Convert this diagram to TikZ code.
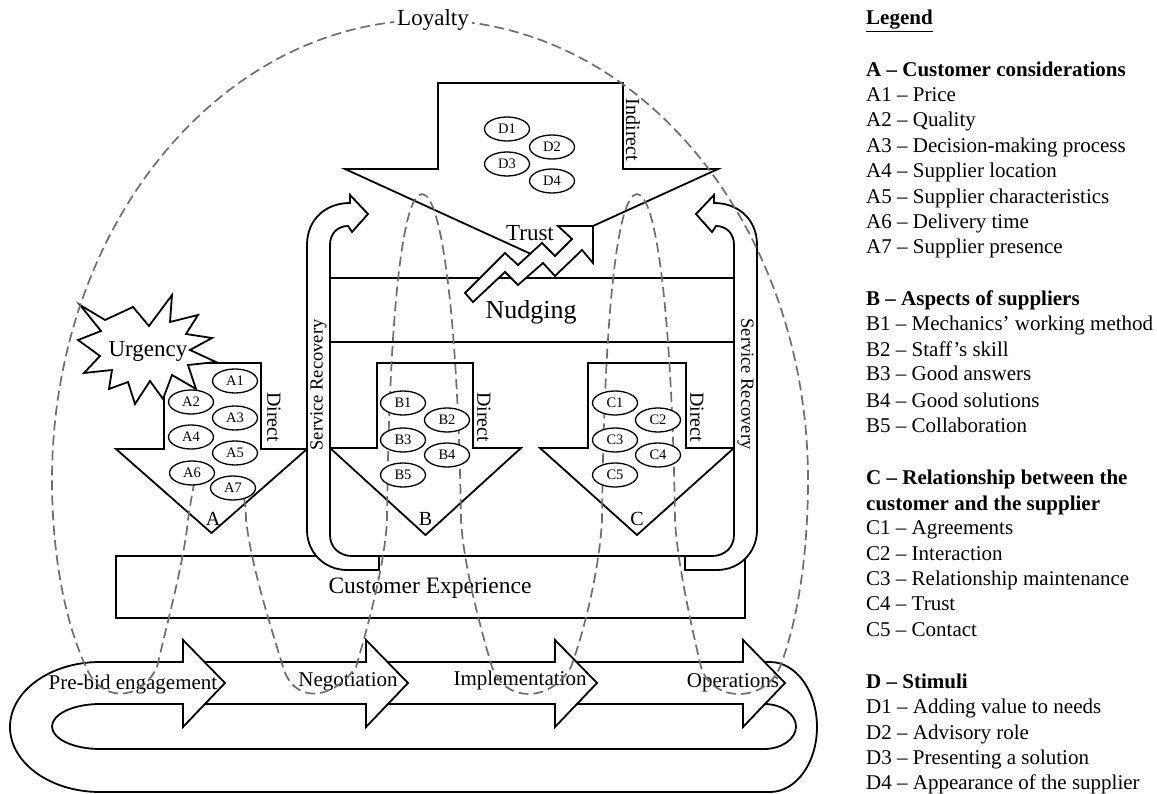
\documentclass[tikz,border=0pt]{standalone}
\usepackage{fontspec}
\setmainfont{Liberation Serif}
\usetikzlibrary{shapes.geometric}
\definecolor{dashgray}{RGB}{110,110,110}
\begin{document}
\begin{tikzpicture}[x=1pt,y=-1pt,
  shapeline/.style={draw=black, line width=1.8pt, line join=miter, fill=white},
  loopline/.style={draw=dashgray, line width=1.7pt, dash pattern=on 10pt off 5pt},
  pill/.style={draw, ellipse, line width=1.3pt, fill=white, minimum width=45pt, minimum height=24pt, inner sep=0pt, font=\fontsize{14.5}{14.5}\selectfont},
  lbl/.style={inner sep=0pt, font=\fontsize{20}{20}\selectfont},
  leg/.style={anchor=base west, inner sep=0pt, font=\fontsize{21}{25}\selectfont},
  legb/.style={leg, font=\fontsize{21}{25}\selectfont\bfseries}
]
\useasboundingbox (0,0) rectangle (1157,794);

% ---- process loop ----
\draw[shapeline] (100,662) -- (770,662) arc[start angle=-90,end angle=90,x radius=47,y radius=65]
  -- (100,792) arc[start angle=90,end angle=270,x radius=90,y radius=65] -- cycle;
\draw[shapeline] (100,704) -- (764,704) arc[start angle=-90,end angle=90,x radius=32,y radius=22.5]
  -- (100,749) arc[start angle=90,end angle=270,x radius=48,y radius=22.5] -- cycle;

% ---- stage arrows ----
\draw[shapeline] (570,662) -- (743,662) -- (743,640) -- (785,683) -- (743,727) -- (743,704) -- (570,704) -- cycle;
\draw[shapeline] (380,662) -- (555,662) -- (555,640) -- (597,683) -- (555,727) -- (555,704) -- (380,704) -- cycle;
\draw[shapeline] (200,662) -- (366,662) -- (366,640) -- (408,683) -- (366,727) -- (366,704) -- (200,704) -- cycle;
\fill[white] (100,662) -- (183,662) -- (183,640) -- (225,683) -- (183,727) -- (183,704) -- (100,704) -- cycle;
\draw[shapeline, fill=none] (100,662) -- (183,662) -- (183,640) -- (225,683) -- (183,727) -- (183,704) -- (100,704);

% ---- customer experience ----
\draw[shapeline] (116,556) rectangle (745,618);
\node[inner sep=0pt, font=\fontsize{23.5}{24}\selectfont] (ce) at (430,588) {Customer Experience};

% ---- nudging band ----
\draw[shapeline] (330,278) -- (734,278);
\draw[shapeline] (330,342) -- (734,342);
\node[inner sep=0pt, font=\fontsize{26}{26}\selectfont] (nudging) at (531,312) {Nudging};

% ---- category arrows A, B, C ----
\draw[shapeline] (164,363) -- (261,363) -- (261,449) -- (307,449) -- (211.5,533) -- (116,449) -- (164,449) -- cycle;
\draw[shapeline] (377,363) -- (473,363) -- (473,448) -- (521,448) -- (425.5,535) -- (330,448) -- (377,448) -- cycle;
\draw[shapeline] (588,363) -- (686,363) -- (686,448) -- (734,448) -- (637,535) -- (540,448) -- (588,448) -- cycle;

% ---- service recovery arrows ----
\draw[shapeline] (379,556) -- (352,556) .. controls (339,556) and (330,547) .. (330,535) -- (330,245)
  .. controls (330,233) and (338,226) .. (348,226) -- (352,232) -- (368,214) -- (350,195) -- (350,203)
  .. controls (325,203) and (307,220) .. (307,245) -- (307,530) .. controls (307,553) and (325,570) .. (347,570)
  -- (379,570) -- cycle;
\draw[shapeline] (685,556) -- (712,556) .. controls (725,556) and (734,547) .. (734,535) -- (734,245)
  .. controls (734,233) and (726,226) .. (716,226) -- (712,232) -- (696,214) -- (714,195) -- (714,203)
  .. controls (739,203) and (757,220) .. (757,245) -- (757,530) .. controls (757,553) and (739,570) .. (717,570)
  -- (685,570) -- cycle;
\node[inner sep=0pt, rotate=90, font=\fontsize{18.5}{19}\selectfont] (srl) at (318.5,385) {Service Recovery};
\node[inner sep=0pt, rotate=-90, font=\fontsize{18.5}{19}\selectfont] (srr) at (745.5,384) {Service Recovery};

% ---- stimuli arrow D ----
\draw[shapeline, fill=none] (593,226) -- (718,169) -- (623,169) -- (623,83) -- (438,83) -- (438,169) -- (345,169) -- (531,254);
\node[lbl, rotate=-90] (indirect) at (633,130) {Indirect};

% ---- trust zigzag arrow ----
\draw[shapeline] (465,293) -- (505,253) -- (518,265) -- (542,243) -- (555,256) -- (572,239) -- (558,226)
  -- (593,226) -- (593,263) -- (582,250) -- (555,276) -- (543,263) -- (518,285) -- (505,272) -- (473,302) -- cycle;
\node[inner sep=0pt, font=\fontsize{23}{23}\selectfont] (trust) at (530,233) {Trust};

% ---- urgency burst ----
\draw[shapeline] (80,305) -- (105,320) -- (133,307) -- (149,326) -- (172,295) -- (170,322) -- (198,315)
  -- (186,334) -- (212,338) -- (190,350) -- (216,362) -- (188,365) -- (196,389) -- (172,375) -- (163,399)
  -- (150,381) -- (135,404) -- (128,382) -- (109,389) -- (112,370) -- (84,373) -- (100,356) -- (78,340)
  -- (101,331) -- cycle;
\node[inner sep=0pt, font=\fontsize{23}{23}\selectfont] (urgency) at (148,351) {Urgency};

% ---- labels on arrows ----
\node[lbl, rotate=-90] (dira) at (274,417) {Direct};
\node[lbl, rotate=-90] (dirb) at (484,417) {Direct};
\node[lbl, rotate=-90] (dirc) at (697,417) {Direct};
\node[lbl] (la) at (213,519) {A};
\node[lbl] (lb) at (425.5,519) {B};
\node[lbl] (lc) at (637,519) {C};

% ---- stage labels ----
\node[inner sep=0pt, font=\fontsize{21}{21}\selectfont] (s1) at (133,684) {Pre-bid engagement};
\node[inner sep=0pt, font=\fontsize{21}{21}\selectfont] (s2) at (348,682) {Negotiation};
\node[inner sep=0pt, font=\fontsize{21}{21}\selectfont] (s3) at (520,680) {Implementation};
\node[inner sep=0pt, font=\fontsize{21}{21}\selectfont] (s4) at (733,683) {Operations};

% ---- loyalty / phase loops ----
\draw[loopline] (244,497) .. controls (245,505) and (246,512) .. (246,520)
  .. controls (252,570) and (272,630) .. (283,667)
  .. controls (293,702) and (330,703) .. (356,667)
  .. controls (372,612) and (385,560) .. (387,520)
  .. controls (389,320) and (402,194) .. (422,194)
  .. controls (442,194) and (458,320) .. (461,520)
  .. controls (463,560) and (478,620) .. (492,667)
  .. controls (505,703) and (550,703) .. (571,667)
  .. controls (588,620) and (600,560) .. (602,520)
  .. controls (604,320) and (617,194) .. (637,194)
  .. controls (657,194) and (672,320) .. (675,520)
  .. controls (677,560) and (690,620) .. (701,667)
  .. controls (712,703) and (765,703) .. (780,667)
  .. controls (800,615) and (808,545) .. (808,480)
  .. controls (808,226) and (639,20) .. (430,20)
  .. controls (221,20) and (52,226) .. (52,480)
  .. controls (52,545) and (62,615) .. (86,667)
  .. controls (100,702) and (140,703) .. (157,667)
  .. controls (170,612) and (184,560) .. (188,520)
  .. controls (190,505) and (192,495) .. (194,484);
\node[fill=white, inner sep=3pt, font=\fontsize{23}{23}\selectfont] (loyalty) at (433,20) {Loyalty};

% ---- item ellipses ----
\node[pill] (a1) at (235,381) {A1};
\node[pill] (a2) at (191,402) {A2};
\node[pill] (a3) at (235,418) {A3};
\node[pill] (a4) at (191,437) {A4};
\node[pill] (a5) at (235,453) {A5};
\node[pill] (a6) at (192,473) {A6};
\node[pill] (a7) at (233,488) {A7};

\node[pill] (b1) at (403,403) {B1};
\node[pill] (b2) at (447,420) {B2};
\node[pill] (b3) at (403,440) {B3};
\node[pill] (b4) at (447,455) {B4};
\node[pill] (b5) at (403,475) {B5};

\node[pill] (c1) at (615,403) {C1};
\node[pill] (c2) at (658,420) {C2};
\node[pill] (c3) at (615,440) {C3};
\node[pill] (c4) at (658,455) {C4};
\node[pill] (c5) at (615,475) {C5};

\node[pill] (d1) at (507,129) {D1};
\node[pill] (d2) at (552,147) {D2};
\node[pill] (d3) at (507,164) {D3};
\node[pill] (d4) at (552,181) {D4};

% ---- legend ----
\node[legb] (lg) at (866,25) {\underline{Legend}};
\node[legb] (lgA) at (866,77) {A – Customer considerations};
\node[leg] (lgA1) at (866,102) {A1 – Price};
\node[leg] (lgA2) at (866,127) {A2 – Quality};
\node[leg] (lgA3) at (866,153) {A3 – Decision-making process};
\node[leg] (lgA4) at (866,178) {A4 – Supplier location};
\node[leg] (lgA5) at (866,204) {A5 – Supplier characteristics};
\node[leg] (lgA6) at (866,229) {A6 – Delivery time};
\node[leg] (lgA7) at (866,254) {A7 – Supplier presence};
\node[legb] (lgB) at (866,306) {B – Aspects of suppliers};
\node[leg] (lgB1) at (866,331) {B1 – Mechanics’ working method};
\node[leg] (lgB2) at (866,356) {B2 – Staff’s skill};
\node[leg] (lgB3) at (866,381) {B3 – Good answers};
\node[leg] (lgB4) at (866,407) {B4 – Good solutions};
\node[leg] (lgB5) at (866,432) {B5 – Collaboration};
\node[legb] (lgC) at (866,484) {C – Relationship between the};
\node[legb] (lgCb) at (866,510) {customer and the supplier};
\node[leg] (lgC1) at (866,534) {C1 – Agreements};
\node[leg] (lgC2) at (866,560) {C2 – Interaction};
\node[leg] (lgC3) at (866,585) {C3 – Relationship maintenance};
\node[leg] (lgC4) at (866,610) {C4 – Trust};
\node[leg] (lgC5) at (866,636) {C5 – Contact};
\node[legb] (lgD) at (866,688) {D – Stimuli};
\node[leg] (lgD1) at (866,713) {D1 – Adding value to needs};
\node[leg] (lgD2) at (866,739) {D2 – Advisory role};
\node[leg] (lgD3) at (866,764) {D3 – Presenting a solution};
\node[leg] (lgD4) at (866,789) {D4 – Appearance of the supplier};
\end{tikzpicture}
\end{document}
